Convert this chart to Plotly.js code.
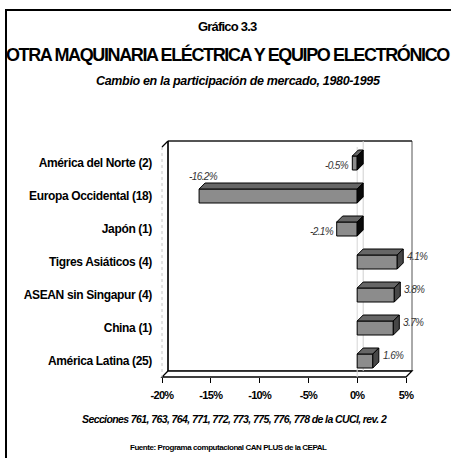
<!DOCTYPE html>
<html><head><meta charset="utf-8">
<script src="https://cdn.plot.ly/plotly-3.0.1.min.js"></script>
<style>
html,body{margin:0;padding:0;background:#fff;}
#wrap{position:relative;width:451px;height:458px;overflow:hidden;background:#fff;}
#frame{position:absolute;left:5px;top:9px;width:470px;height:470px;border-left:2px solid #000;border-top:2px solid #000;}
#chart{position:absolute;left:0;top:0;width:451px;height:458px;}
</style></head><body>
<div id="wrap"><div id="frame"></div><div id="chart"></div></div>
<script>
// ---- data ----
const categories = ['América del Norte (2)', 'Europa Occidental (18)', 'Japón (1)', 'Tigres Asiáticos (4)', 'ASEAN sin Singapur (4)', 'China (1)', 'América Latina (25)'];
const values = [-0.5, -16.2, -2.1, 4.1, 3.8, 3.7, 1.6];
const tickValues = [-20, -15, -10, -5, 0, 5];
const tickLabels = ['-20%', '-15%', '-10%', '-5%', '0%', '5%'];

// ---- geometry (pixels) ----
const W = 451, H = 458, PL = 155, PR = 416, PT = 132, PB = 390;
const X0PX = 162, PXPER = 9.76, ROW0 = 163, ROWPX = 33;
const px2x = p => -20 + (p - X0PX) / PXPER;
const py2y = p => (p - ROW0) / ROWPX;
const paperX = p => (p - PL) / (PR - PL);
const paperY = p => (PB - p) / (PB - PT);
const DX = 6 / PXPER, DY = 6 / ROWPX, HB = 7 / ROWPX;
const xMin = tickValues[0], xMax = tickValues[tickValues.length - 1];
const wallTop = py2y(141), wallBot = py2y(371), floorFront = wallBot + DY;

const F = '"Liberation Sans", Arial, sans-serif';
const ls = (t, s) => `<span style="letter-spacing:${s}px">${t}</span>`;
const idx = categories.map((c, i) => i);

// faces
function poly(list) { const xs = [], ys = []; list.forEach(pts => { pts.forEach(p => { xs.push(p[0]); ys.push(p[1]); }); xs.push(pts[0][0]); ys.push(pts[0][1]); xs.push(null); ys.push(null); }); return {xs, ys}; }
const tops = [], sidesPos = [], sidesNeg = [];
values.forEach((v, i) => {
  const a = Math.min(0, v), b = Math.max(0, v);
  tops.push([[a, i - HB], [b, i - HB], [b + DX, i - HB - DY], [a + DX, i - HB - DY]]);
  const s = [[b, i + HB], [b, i - HB], [b + DX, i - HB - DY], [b + DX, i + HB - DY]];
  (v >= 0 ? sidesPos : sidesNeg).push(s);
});
const T = poly(tops), SP = poly(sidesPos), SN = poly(sidesNeg);

const traces = [
  {type: 'bar', orientation: 'h', x: values, y: idx, width: 2 * HB, marker: {color: '#8c8c8c', line: {color: '#000', width: 1}}, hoverinfo: 'skip'},
  {type: 'scatter', mode: 'lines', x: T.xs, y: T.ys, fill: 'toself', fillcolor: '#666666', line: {color: '#000', width: 1}, hoverinfo: 'skip'},
  {type: 'scatter', mode: 'lines', x: SP.xs, y: SP.ys, fill: 'toself', fillcolor: '#474747', line: {color: '#000', width: 1}, hoverinfo: 'skip'},
  {type: 'scatter', mode: 'lines', x: SN.xs, y: SN.ys, fill: 'toself', fillcolor: '#0a0a0a', line: {color: '#000', width: 1}, hoverinfo: 'skip'}
];

const shapes = [
  {type: 'rect', layer: 'below', x0: xMin + DX, x1: xMax + DX, y0: wallTop, y1: wallBot, fillcolor: '#fff', line: {color: '#555', width: 1}},
  {type: 'line', layer: 'below', x0: xMin + DX, x1: xMin + DX, y0: wallTop, y1: wallBot, line: {color: '#000', width: 1.5}},
  {type: 'line', layer: 'below', x0: xMin + DX, x1: xMax + DX, y0: wallTop, y1: wallTop, line: {color: '#000', width: 1}},
  {type: 'path', layer: 'below', path: `M ${xMin} ${floorFront} L ${xMax} ${floorFront} L ${xMax + DX} ${wallBot} L ${xMin + DX} ${wallBot} Z`, fillcolor: '#fff', line: {color: '#000', width: 1.3}},
  {type: 'line', layer: 'below', x0: xMin, x1: xMin, y0: wallTop + DY, y1: floorFront, line: {color: '#c8c8c8', width: 1, dash: 'dot'}},
  {type: 'line', layer: 'below', x0: xMin, x1: xMin + DX, y0: wallTop + DY, y1: wallTop, line: {color: '#000', width: 1.3}},
  {type: 'line', layer: 'below', x0: DX, x1: DX, y0: wallTop, y1: wallBot, line: {color: '#cfcfcf', width: 1}},
  {type: 'line', layer: 'below', x0: 0, x1: 0, y0: wallTop + DY, y1: floorFront, line: {color: '#d6d6d6', width: 1}}
];

const labFont = {family: F, size: 10, color: '#333', style: 'italic'};
const annotations = values.map((v, i) => {
  const t = ls(v.toFixed(1) + '%', -0.6);
  if (v >= 0) return {x: v + DX, y: i - DY * 0.9, text: t, showarrow: false, xanchor: 'left', yanchor: 'middle', xshift: 2, font: labFont};
  if (v > -15) return {x: v, y: i, text: t, showarrow: false, xanchor: 'right', yanchor: 'middle', xshift: -1, yshift: -2, font: labFont};
  return {x: v, y: i - HB - DY, text: t, showarrow: false, xanchor: 'center', yanchor: 'bottom', xshift: 4, yshift: -1, font: labFont};
});
function pa(text, px, py, size, opts) {
  return Object.assign({xref: 'paper', yref: 'paper', x: paperX(px), y: paperY(py), text, showarrow: false, xanchor: 'center', yanchor: 'middle', font: {family: F, size, color: '#000', weight: 'bold'}}, opts || {});
}
annotations.push(pa(ls('Gráfico 3.3', -0.8), 227, 27, 13));
annotations.push(pa(ls('OTRA MAQUINARIA ELÉCTRICA Y EQUIPO ELECTRÓNICO', -1.38), 228, 55, 18));
annotations.push(pa(ls('Cambio en la participación de mercado, 1980-1995', -0.33), 238, 81, 12.5, {font: {family: F, size: 12.5, color: '#000', weight: 'bold', style: 'italic'}}));
annotations.push(pa(ls('Secciones 761, 763, 764, 771, 772, 773, 775, 776, 778 de la CUCI, rev. 2', -0.6), 234, 419, 10.5, {font: {family: F, size: 10.5, color: '#000', weight: 'bold', style: 'italic'}}));
annotations.push(pa(ls('Fuente: Programa computacional CAN PLUS de la CEPAL', -0.45), 228, 447, 8));

const layout = {
  width: W, height: H, margin: {l: PL, r: W - PR, t: PT, b: H - PB, pad: 0},
  paper_bgcolor: 'rgba(0,0,0,0)', plot_bgcolor: 'rgba(0,0,0,0)', showlegend: false,
  xaxis: {range: [px2x(PL), px2x(PR)], anchor: 'free', position: paperY(377), tickvals: tickValues, ticktext: tickLabels.map(t => ls(t, -0.7)), ticks: 'outside', ticklen: 5, tickcolor: '#000', tickwidth: 1, showgrid: false, zeroline: false, showline: false, tickfont: {family: F, size: 11, color: '#000', weight: 'bold'}, ticklabelstandoff: 3, fixedrange: true},
  yaxis: {range: [py2y(PB), py2y(PT)], anchor: 'free', position: paperX(162), tickvals: idx, ticktext: categories.map(t => ls(t, -0.35)), ticks: '', showgrid: false, zeroline: false, showline: false, tickfont: {family: F, size: 12, color: '#000', weight: 'bold'}, ticklabelstandoff: 10, fixedrange: true},
  shapes, annotations
};
Plotly.newPlot('chart', traces, layout, {displayModeBar: false, staticPlot: true});
</script>
</body></html>
